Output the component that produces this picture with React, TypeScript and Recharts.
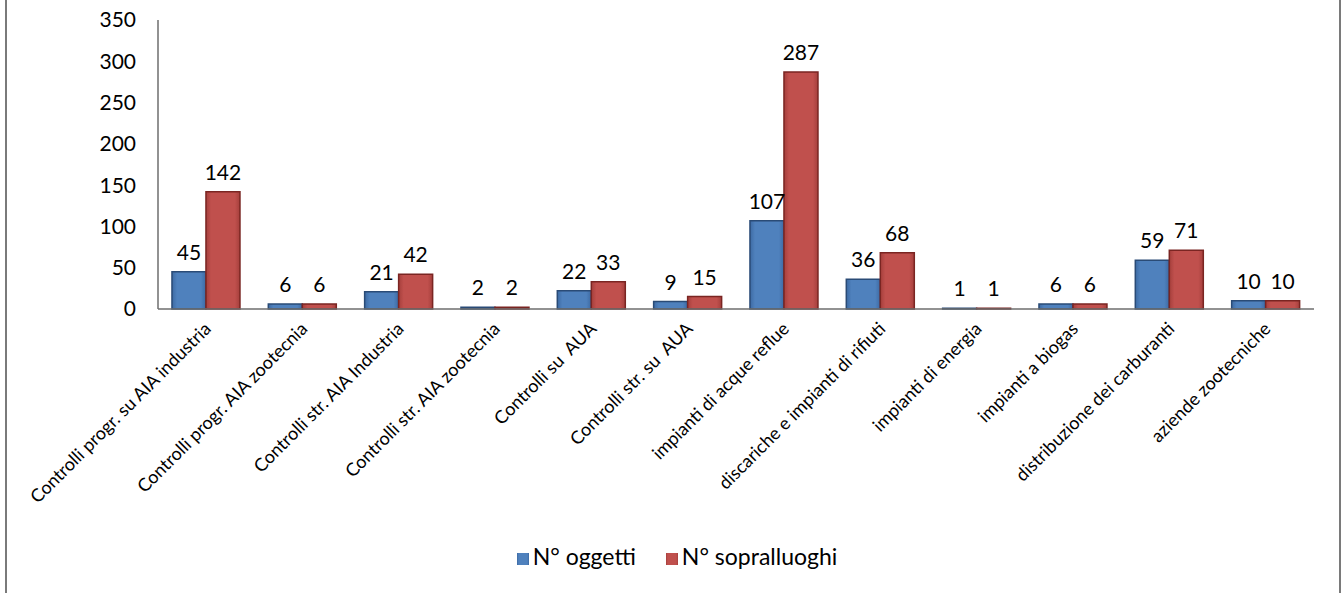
import { BarChart, Bar, XAxis, YAxis, Legend, LabelList } from 'recharts'

const categories = [
  'Controlli progr. su AIA industria',
  'Controlli progr. AIA zootecnia',
  'Controlli str. AIA Industria',
  'Controlli str. AIA zootecnia',
  'Controlli su  AUA',
  'Controlli str. su  AUA',
  'impianti di acque reflue',
  'discariche e impianti di rifiuti',
  'impianti di energia',
  'impianti a biogas',
  'distribuzione dei carburanti',
  'aziende zootecniche',
]
const oggetti = [45, 6, 21, 2, 22, 9, 107, 36, 1, 6, 59, 10]
const sopralluoghi = [142, 6, 42, 2, 33, 15, 287, 68, 1, 6, 71, 10]
const yTicks = [0, 50, 100, 150, 200, 250, 300, 350]

const data = categories.map((name, i) => ({
  name,
  oggetti: oggetti[i],
  sopralluoghi: sopralluoghi[i],
}))

const font = 'Lato, "Open Sans", sans-serif'

function AngledTick({ x, y, payload }: any) {
  return (
    <g transform={`translate(${x + 6},${y + 13})`}>
      <text
        transform="rotate(-45)"
        textAnchor="end"
        fontSize={18}
        fontFamily={font}
        fill="#000"
        style={{ whiteSpace: 'pre' }}
      >
        {payload.value}
      </text>
    </g>
  )
}

export default function App() {
  return (
    <div style={{ position: 'absolute', left: 0, top: 0, width: 1343, height: 593, background: '#fff' }}>
      <div style={{ position: 'absolute', left: 5, top: 0, width: 2, height: 593, background: '#7a7a7a' }} />
      <div style={{ position: 'absolute', left: 1339, top: 0, width: 2, height: 593, background: '#7a7a7a' }} />
      <BarChart
        width={1343}
        height={593}
        data={data}
        margin={{ top: 20, right: 29, left: 98, bottom: 23 }}
        barCategoryGap="14.5%"
        barGap={0}
      >
        <defs>
          <linearGradient id="gBlue" x1="0" y1="0" x2="1" y2="0">
            <stop offset="0%" stopColor="#3d6aa3" />
            <stop offset="15%" stopColor="#4f81bd" />
            <stop offset="85%" stopColor="#4f81bd" />
            <stop offset="100%" stopColor="#3d6aa3" />
          </linearGradient>
          <linearGradient id="gRed" x1="0" y1="0" x2="1" y2="0">
            <stop offset="0%" stopColor="#a53f3c" />
            <stop offset="15%" stopColor="#c0504d" />
            <stop offset="85%" stopColor="#c0504d" />
            <stop offset="100%" stopColor="#a53f3c" />
          </linearGradient>
        </defs>
        <XAxis
          dataKey="name"
          interval={0}
          height={233}
          tickLine={false}
          axisLine={{ stroke: '#6e6e6e', strokeWidth: 1.5 }}
          tick={<AngledTick />}
        />
        <YAxis
          width={60}
          domain={[0, 350]}
          ticks={yTicks}
          tickLine={false}
          tickSize={0}
          tickMargin={22}
          axisLine={{ stroke: '#6e6e6e', strokeWidth: 1.5 }}
          tick={{ fontSize: 21, fontFamily: font, fill: '#000' }}
        />
        <Legend
          verticalAlign="bottom"
          align="center"
          iconType="square"
          iconSize={12}
          wrapperStyle={{ fontFamily: font, fontSize: 23, left: 84 }}
          formatter={(value: string) => <span style={{ color: '#000', marginRight: 20 }}>{value}</span>}
        />
        <Bar
          dataKey="oggetti"
          name="N° oggetti"
          fill="url(#gBlue)"
          stroke="#2a4b76"
          strokeWidth={1.5}
          isAnimationActive={false}
        >
          <LabelList dataKey="oggetti" position="top" offset={12} style={{ fontSize: 21, fontFamily: font, fill: '#000' }} />
        </Bar>
        <Bar
          dataKey="sopralluoghi"
          name="N° sopralluoghi"
          fill="url(#gRed)"
          stroke="#7a2522"
          strokeWidth={1.5}
          isAnimationActive={false}
        >
          <LabelList dataKey="sopralluoghi" position="top" offset={12} style={{ fontSize: 21, fontFamily: font, fill: '#000' }} />
        </Bar>
      </BarChart>
    </div>
  )
}
